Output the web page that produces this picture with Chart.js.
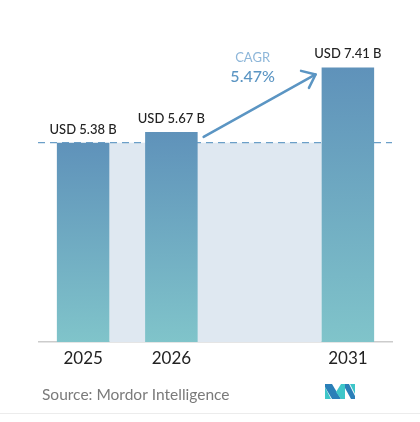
<!DOCTYPE html>
<html>
<head>
<meta charset="utf-8">
<script src="https://cdn.jsdelivr.net/npm/chart.js@4/dist/chart.umd.min.js"></script>
<style>
  html, body { margin: 0; padding: 0; background: #ffffff; }
  #wrap { position: relative; width: 420px; height: 422px; }
</style>
</head>
<body>
<div id="wrap"><canvas id="c"></canvas></div>
<script>
const categories = ['2025', '2026', '', '2031'];
const marketValues = [5.38, 5.67, null, 7.41];
const valueLabels = ['USD 5.38 B', 'USD 5.67 B', '', 'USD 7.41 B'];
const cagrLabel = 'CAGR';
const cagrValue = '5.47%';
const sourceText = 'Source: Mordor Intelligence';
const baselineValue = 5.38;

const FONT = 'Lato, "Open Sans", sans-serif';

const decorPlugin = {
  id: 'decor',
  beforeDatasetsDraw(chart) {
    const { ctx, chartArea, scales } = chart;
    const meta = chart.getDatasetMeta(0);
    const b0 = meta.data[0], b3 = meta.data[3];
    const yLine = scales.y.getPixelForValue(baselineValue);
    const yBase = scales.y.getPixelForValue(0);
    ctx.save();
    ctx.fillStyle = '#dfe8f1';
    const xl = b0.x + b0.width / 2, xr = b3.x - b3.width / 2;
    ctx.fillRect(xl, yLine, xr - xl, yBase - yLine);
    ctx.strokeStyle = '#6b9fc8';
    ctx.lineWidth = 1.2;
    ctx.setLineDash([7, 5]);
    ctx.beginPath();
    ctx.moveTo(chartArea.left - 1, yLine);
    ctx.lineTo(chartArea.right, yLine);
    ctx.stroke();
    ctx.restore();
  },
  afterDatasetsDraw(chart) {
    const { ctx, scales } = chart;
    const meta = chart.getDatasetMeta(0);
    ctx.save();
    ctx.font = '500 13px ' + FONT;
    ctx.fillStyle = '#222222';
    ctx.textAlign = 'center';
    ctx.textBaseline = 'alphabetic';
    meta.data.forEach((bar, i) => {
      if (marketValues[i] == null) return;
      ctx.fillText(valueLabels[i], bar.x, bar.y - 9);
    });
    const b1 = meta.data[1], b3 = meta.data[3];
    const sx = b1.x + b1.width / 2 + 6, sy = b1.y + 5;
    const ex = b3.x - b3.width / 2 - 6, ey = b3.y + 7;
    ctx.strokeStyle = '#5b95c3';
    ctx.lineWidth = 2.5;
    ctx.lineCap = 'round';
    ctx.lineJoin = 'round';
    ctx.beginPath();
    ctx.moveTo(sx, sy);
    ctx.lineTo(ex, ey);
    ctx.stroke();
    const ang = Math.atan2(ey - sy, ex - sx);
    const L = 15;
    ctx.beginPath();
    ctx.moveTo(ex + L * Math.cos(ang + Math.PI - 0.6), ey + L * Math.sin(ang + Math.PI - 0.6));
    ctx.lineTo(ex, ey);
    ctx.lineTo(ex + L * Math.cos(ang + Math.PI + 0.75), ey + L * Math.sin(ang + Math.PI + 0.75));
    ctx.stroke();
    const cx = scales.x.getPixelForValue(2) - 7;
    ctx.textAlign = 'center';
    ctx.textBaseline = 'middle';
    ctx.fillStyle = '#8db6d9';
    ctx.font = '400 13px ' + FONT;
    ctx.fillText(cagrLabel, cx, 58);
    ctx.fillStyle = '#5b95c3';
    ctx.font = '500 16px ' + FONT;
    ctx.fillText(cagrValue, cx, 77);
    ctx.restore();
  },
  afterDraw(chart) {
    const { ctx } = chart;
    ctx.save();
    ctx.font = '400 15.5px ' + FONT;
    ctx.fillStyle = '#7a7a7a';
    ctx.textAlign = 'left';
    ctx.textBaseline = 'middle';
    ctx.fillText(sourceText, 42, 395);
    const teal = '#3ec6c9', blue = '#2a7fb8';
    const poly = (pts, col) => {
      ctx.fillStyle = col;
      ctx.beginPath();
      ctx.moveTo(pts[0][0], pts[0][1]);
      for (let k = 1; k < pts.length; k++) ctx.lineTo(pts[k][0], pts[k][1]);
      ctx.closePath();
      ctx.fill();
    };
    poly([[325, 387], [331, 399], [325, 399]], teal);
    poly([[325, 384], [332, 384], [341, 399], [332, 399], [325, 387]], blue);
    poly([[336, 392], [341, 384], [345, 384], [345, 399], [341, 399]], teal);
    poly([[345, 384], [349, 384], [355, 396], [355, 399], [351, 399], [345, 388]], blue);
    poly([[350, 384], [355, 384], [355, 394]], teal);
    ctx.strokeStyle = '#ececec';
    ctx.lineWidth = 1;
    ctx.beginPath();
    ctx.moveTo(0, 413.5);
    ctx.lineTo(420, 413.5);
    ctx.stroke();
    ctx.restore();
  }
};

new Chart(document.getElementById('c'), {
  type: 'bar',
  data: {
    labels: categories,
    datasets: [{
      data: marketValues,
      backgroundColor: (context) => {
        const chart = context.chart;
        const { chartArea, scales } = chart;
        if (!chartArea || context.raw == null) return '#6fa9c2';
        const top = scales.y.getPixelForValue(context.raw);
        const bot = scales.y.getPixelForValue(0);
        const g = chart.ctx.createLinearGradient(0, top, 0, bot);
        g.addColorStop(0, '#5f92ba');
        g.addColorStop(1, '#80c4ca');
        return g;
      },
      borderWidth: 0,
      barPercentage: 0.595,
      categoryPercentage: 1
    }]
  },
  options: {
    responsive: true,
    maintainAspectRatio: false,
    animation: false,
    layout: { padding: { left: 39, right: 28, top: 45.6, bottom: 0 } },
    plugins: { legend: { display: false }, tooltip: { enabled: false } },
    scales: {
      x: {
        grid: { display: false, drawTicks: false },
        border: { display: true, color: '#cccccc', width: 1.5 },
        ticks: { color: '#222222', font: { family: FONT, size: 17 }, padding: 6 },
        afterFit(scale) { scale.height = 80; }
      },
      y: { display: false, min: 0, max: 8 }
    }
  },
  plugins: [decorPlugin]
});
</script>
</body>
</html>
